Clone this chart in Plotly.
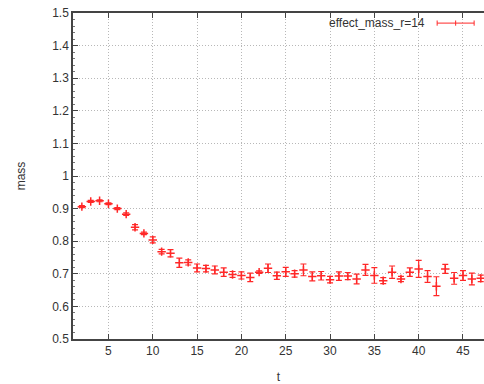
import plotly.graph_objects as go

t = list(range(2, 48))
mass = [0.906, 0.922, 0.924, 0.915, 0.900, 0.883, 0.843, 0.824, 0.804, 0.768,
        0.763, 0.734, 0.735, 0.718, 0.716, 0.712, 0.705, 0.698, 0.695, 0.689,
        0.705, 0.717, 0.694, 0.706, 0.700, 0.712, 0.692, 0.694, 0.682, 0.693,
        0.693, 0.684, 0.712, 0.695, 0.679, 0.705, 0.684, 0.705, 0.715, 0.692,
        0.662, 0.715, 0.686, 0.695, 0.684, 0.686]
err = [0.003, 0.003, 0.003, 0.003, 0.003, 0.004, 0.008, 0.004, 0.009, 0.007,
       0.011, 0.014, 0.008, 0.012, 0.010, 0.012, 0.013, 0.009, 0.011, 0.013,
       0.004, 0.013, 0.011, 0.014, 0.010, 0.018, 0.014, 0.013, 0.010, 0.013,
       0.011, 0.015, 0.017, 0.024, 0.009, 0.019, 0.008, 0.013, 0.026, 0.018,
       0.029, 0.014, 0.018, 0.015, 0.018, 0.010]
series_name = "effect_mass_r=14"

red = "#ff2828"
font = dict(family="Liberation Sans, Arial, sans-serif", size=12, color="#333333")

fig = go.Figure()
fig.add_trace(go.Scatter(
    x=t, y=mass, mode="markers", name=series_name,
    marker=dict(symbol="cross-thin", size=6, color=red, line=dict(color=red, width=1.5)),
    error_y=dict(type="data", array=err, visible=True, color=red, thickness=1.2, width=3),
    showlegend=False,
))

grid = dict(showgrid=True, gridcolor="#b8b8b8", griddash="1px,2px", gridwidth=1)
fig.update_xaxes(
    range=[1, 47.37], tickvals=list(range(5, 50, 5)), ticks="inside", ticklen=5,
    tickcolor="#444", showline=True, linecolor="#444", linewidth=1.5, mirror="ticks",
    zeroline=False, title=dict(text="t", font=font, standoff=16), tickfont=font, **grid)
fig.update_yaxes(
    range=[0.5, 1.5], dtick=0.1, ticks="inside", ticklen=5, tickcolor="#444",
    showline=True, linecolor="#444", linewidth=1.5, zeroline=False,
    minor=dict(dtick=0.02, ticks="inside", ticklen=2, tickcolor="#777", showgrid=False),
    title=dict(text="mass", font=font, standoff=24), tickfont=font, **grid)

# legend key drawn gnuplot-style (text left of an errorbar sample)
fig.add_annotation(xref="paper", yref="paper", x=0.861, y=0.969, xanchor="right",
                   yanchor="middle", text=series_name, showarrow=False, font=font)
ly = 0.969
x0, x1 = 0.886, 0.976
xm = (x0 + x1) / 2
fig.add_shape(type="line", xref="paper", yref="paper", x0=x0, x1=x1, y0=ly, y1=ly,
              line=dict(color=red, width=1))
for xx in (x0, xm, x1):
    fig.add_shape(type="line", xref="paper", yref="paper", x0=xx, x1=xx,
                  y0=ly - 0.008, y1=ly + 0.008, line=dict(color=red, width=1))

fig.update_layout(
    width=484, height=384, margin=dict(l=73, r=0, t=13, b=45),
    paper_bgcolor="white", plot_bgcolor="white", font=font,
)
fig.write_html("out.html")
